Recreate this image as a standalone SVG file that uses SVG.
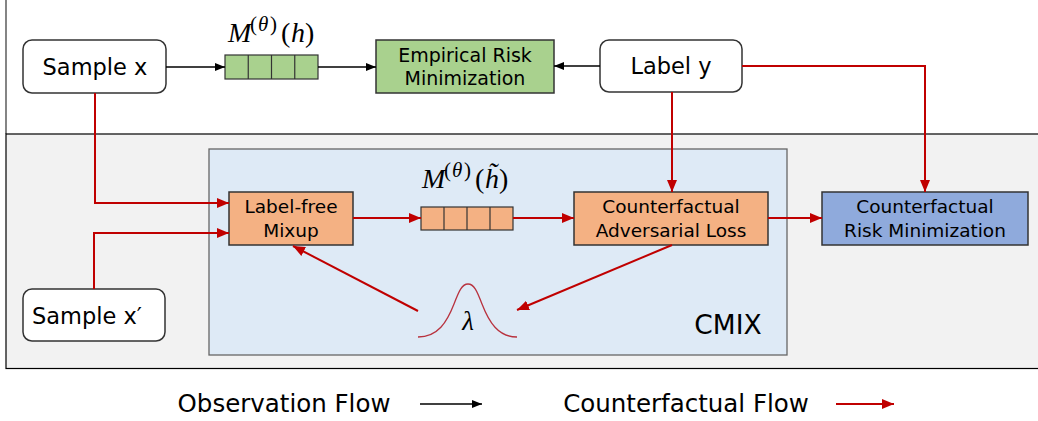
<svg xmlns="http://www.w3.org/2000/svg" width="1038" height="421" viewBox="0 0 1038 421">
<style>
  .lbl { font-family: "DejaVu Sans", "Noto Sans", sans-serif; fill: #000; text-anchor: middle; }
  .math { font-family: "Liberation Serif", "DejaVu Serif", serif; fill: #000; font-style: italic; }
  .up { font-style: normal; }
  .obs { fill: none; stroke: #000; stroke-width: 1.3; }
  .cf { fill: none; stroke: #c00000; stroke-width: 2; }
  .node { stroke: #333; stroke-width: 1.5; }
  .cell { stroke: #333; stroke-width: 1.2; }
  .green { fill: #a9d18e; }
  .orange { fill: #f4b183; }
  .blue { fill: #8faadc; }
  .white { fill: #fff; }
</style>
<defs>
  <marker id="ah-black" markerUnits="userSpaceOnUse" markerWidth="10" markerHeight="8" refX="10" refY="4" orient="auto">
    <path d="M0,0 L10,4 L0,8 z" fill="#000"/>
  </marker>
  <marker id="ah-red" markerUnits="userSpaceOnUse" markerWidth="12" markerHeight="10" refX="12" refY="5" orient="auto">
    <path d="M0,0 L12,5 L0,10 z" fill="#c00000"/>
  </marker>
</defs>

<!-- background panels -->
<rect x="0" y="0" width="1038" height="421" fill="#fff"/>
<line x1="6" y1="0" x2="6" y2="134" stroke="#333" stroke-width="1.2"/>
<rect x="6" y="134" width="1040" height="234.5" fill="#f2f2f2" stroke="#000" stroke-width="1.2"/>

<!-- CMIX container -->
<g id="cmix">
  <rect x="209" y="149" width="578" height="206" fill="#deeaf6" stroke="#666" stroke-width="1.3"/>
  <text class="lbl" x="728" y="334" font-size="26.5">CMIX</text>
</g>

<g id="sample-x">
  <rect x="23" y="40" width="143" height="53" rx="9" class="node white"/>
  <text class="lbl" x="95" y="75" font-size="22.5">Sample x</text>
</g>

<g id="sample-x-prime">
  <rect x="23" y="289" width="142" height="52" rx="9" class="node white"/>
  <text class="lbl" x="87" y="324" font-size="22.5">Sample x′</text>
</g>

<g id="label-y">
  <rect x="600" y="40" width="142" height="52" rx="9" class="node white"/>
  <text class="lbl" x="671" y="74" font-size="22.5">Label y</text>
</g>

<g id="model-h">
  <text class="math" y="42" font-size="28"><tspan x="228">M</tspan><tspan class="up" x="250" dy="-11" font-size="21">(</tspan><tspan x="258" font-size="21">θ</tspan><tspan class="up" x="270" font-size="21">)</tspan><tspan class="up" x="281" dy="11">(</tspan><tspan x="291">h</tspan><tspan class="up" x="305">)</tspan></text>
  <rect x="225" y="55" width="93" height="24" class="cell green"/>
  <line x1="248.25" y1="55" x2="248.25" y2="79" class="cell"/>
  <line x1="271.5" y1="55" x2="271.5" y2="79" class="cell"/>
  <line x1="294.75" y1="55" x2="294.75" y2="79" class="cell"/>
</g>

<g id="erm">
  <rect x="376" y="40" width="178" height="53" class="node green"/>
  <text class="lbl" x="465" y="62" font-size="19">Empirical Risk</text>
  <text class="lbl" x="465" y="85" font-size="19">Minimization</text>
</g>

<g id="mixup">
  <rect x="229" y="192" width="124" height="53" class="node orange"/>
  <text class="lbl" x="291" y="213" font-size="18.5">Label-free</text>
  <text class="lbl" x="291" y="237" font-size="18.5">Mixup</text>
</g>

<g id="model-htilde">
  <text class="math" y="188" font-size="28"><tspan x="422">M</tspan><tspan class="up" x="444" dy="-11" font-size="21">(</tspan><tspan x="452" font-size="21">θ</tspan><tspan class="up" x="464" font-size="21">)</tspan><tspan class="up" x="475" dy="11">(</tspan><tspan x="485">h̃</tspan><tspan class="up" x="499">)</tspan></text>
  <rect x="421" y="207" width="92" height="23" class="cell orange"/>
  <line x1="444" y1="207" x2="444" y2="230" class="cell"/>
  <line x1="467" y1="207" x2="467" y2="230" class="cell"/>
  <line x1="490" y1="207" x2="490" y2="230" class="cell"/>
</g>

<g id="cal">
  <rect x="574" y="192" width="194" height="53" class="node orange"/>
  <text class="lbl" x="671" y="213" font-size="18.5">Counterfactual</text>
  <text class="lbl" x="671" y="237" font-size="18.5">Adversarial Loss</text>
</g>

<g id="crm">
  <rect x="822" y="192" width="206" height="53" class="node blue"/>
  <text class="lbl" x="925" y="213" font-size="18.5">Counterfactual</text>
  <text class="lbl" x="925" y="237" font-size="18.5">Risk Minimization</text>
</g>

<g id="lambda">
  <path d="M418,337 C438,337 447,322 454,304 C459,291 462,284 468,284 C474,284 477,291 482,304 C489,322 498,337 517,337" fill="none" stroke="#b8323e" stroke-width="1.3"/>
  <text class="math" x="468" y="330" font-size="27" text-anchor="middle">λ</text>
</g>

<g id="connectors">
  <line x1="166" y1="67" x2="225" y2="67" class="obs" marker-end="url(#ah-black)"/>
  <line x1="318" y1="67" x2="376" y2="67" class="obs" marker-end="url(#ah-black)"/>
  <line x1="600" y1="66" x2="554" y2="66" class="obs" marker-end="url(#ah-black)"/>
  <polyline points="95,93 95,203 229,203" class="cf" marker-end="url(#ah-red)"/>
  <polyline points="94,289 94,233 229,233" class="cf" marker-end="url(#ah-red)"/>
  <line x1="353" y1="218" x2="421" y2="218" class="cf" marker-end="url(#ah-red)"/>
  <line x1="513" y1="218" x2="574" y2="218" class="cf" marker-end="url(#ah-red)"/>
  <line x1="672" y1="92" x2="672" y2="192" class="cf" marker-end="url(#ah-red)"/>
  <polyline points="742,66 925,66 925,192" class="cf" marker-end="url(#ah-red)"/>
  <line x1="768" y1="218" x2="822" y2="218" class="cf" marker-end="url(#ah-red)"/>
  <line x1="672" y1="245" x2="517" y2="310" class="cf" marker-end="url(#ah-red)"/>
  <line x1="418" y1="311" x2="293" y2="246" class="cf" marker-end="url(#ah-red)"/>
</g>

<g id="legend">
  <text class="lbl" x="284" y="412" font-size="24.5">Observation Flow</text>
  <line x1="420" y1="404" x2="482" y2="404" class="obs" marker-end="url(#ah-black)"/>
  <text class="lbl" x="686" y="412" font-size="24.5">Counterfactual Flow</text>
  <line x1="836" y1="404" x2="894" y2="404" class="cf" marker-end="url(#ah-red)"/>
</g>
</svg>
